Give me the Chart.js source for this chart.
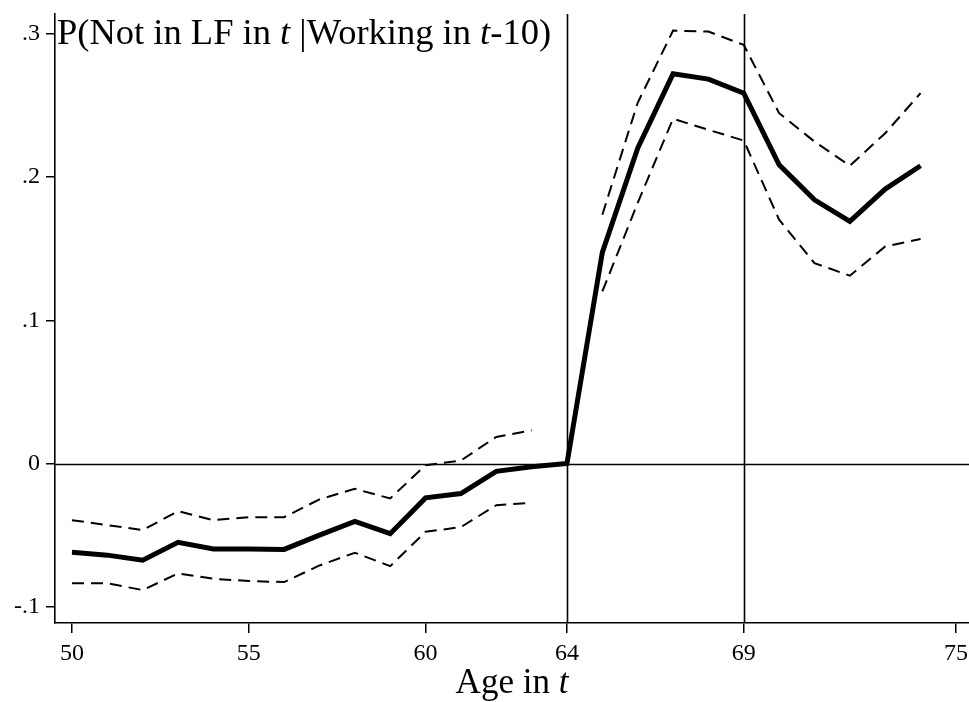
<!DOCTYPE html>
<html>
<head>
<meta charset="utf-8">
<script src="https://cdn.jsdelivr.net/npm/chart.js@4.4.1/dist/chart.umd.min.js"></script>
<style>
    html, body { margin: 0; padding: 0; background: #fff; }
    #wrap { width: 969px; height: 702px; }
</style>
</head>
<body>
<div id="wrap"><canvas id="myChart"></canvas></div>
<script>
// ages 50..74, 64 is the reference age (no CI there)
const ages = [50, 51, 52, 53, 54, 55, 56, 57, 58, 59, 60, 61, 62, 63, 64, 65, 66, 67, 68, 69, 70, 71, 72, 73, 74];
const estimate = [-0.062, -0.064, -0.0675, -0.055, -0.0597, -0.0597, -0.060, -0.050, -0.0405, -0.049, -0.024, -0.021, -0.0055, -0.0022, 0,
    0.1475, 0.2203, 0.2722, 0.2685, 0.2587, 0.2087, 0.1842, 0.1691, 0.1917, 0.208];
const ciHigh = [-0.0396, -0.043, -0.0465, -0.0333, -0.0396, -0.0375, -0.0375, -0.025, -0.0177, -0.0244, -0.0012, 0.0021, 0.0186, 0.0232, null,
    0.1738, 0.252, 0.3024, 0.3017, 0.2924, 0.2447, 0.2249, 0.208, 0.2307, 0.2587];
const ciLow = [-0.0837, -0.0837, -0.0884, -0.0768, -0.0805, -0.0821, -0.0828, -0.0712, -0.0623, -0.0717, -0.0477, -0.0444, -0.0291, -0.0274, null,
    0.1202, 0.182, 0.2408, 0.2331, 0.2256, 0.1703, 0.14, 0.1312, 0.1516, 0.1568];

const xTicks = [50, 55, 60, 64, 69, 75];
const yTicks = [-0.1, 0, 0.1, 0.2, 0.3];
const yTickLabels = ["-.1", "0", ".1", ".2", ".3"];
const vLines = [64, 69];
const hLine = 0;

const FONT = "'Liberation Serif', 'Times New Roman', serif";

function toPoints(vals) {
    let pts = [];
    for (let i = 0; i < ages.length; i++) {
        pts.push({ x: ages[i], y: vals[i] });
    }
    return pts;
}

// draws the text pieces with italic t
function drawRuns(ctx, runs, x, y, size) {
    for (let i = 0; i < runs.length; i++) {
        ctx.font = (runs[i][1] ? "italic " : "") + size + "px " + FONT;
        ctx.fillText(runs[i][0], x, y);
        x += ctx.measureText(runs[i][0]).width;
    }
}

function runsWidth(ctx, runs, size) {
    let w = 0;
    for (let i = 0; i < runs.length; i++) {
        ctx.font = (runs[i][1] ? "italic " : "") + size + "px " + FONT;
        w += ctx.measureText(runs[i][0]).width;
    }
    return w;
}

const refLines = {
    id: 'refLines',
    beforeDatasetsDraw(chart) {
        const ctx = chart.ctx;
        const area = chart.chartArea;
        const xs = chart.scales.x, ys = chart.scales.y;
        ctx.save();
        ctx.strokeStyle = '#000';
        ctx.lineWidth = 1.6;
        vLines.forEach(function (v) {
            let px = Math.round(xs.getPixelForValue(v)) + 0.5;
            ctx.beginPath();
            ctx.moveTo(px, area.top);
            ctx.lineTo(px, area.bottom);
            ctx.stroke();
        });
        let py = Math.round(ys.getPixelForValue(hLine)) + 0.5;
        ctx.beginPath();
        ctx.moveTo(area.left, py);
        ctx.lineTo(area.right, py);
        ctx.stroke();
        ctx.restore();
    }
};

const labels = {
    id: 'labels',
    afterDraw(chart) {
        const ctx = chart.ctx;
        const area = chart.chartArea;
        ctx.save();
        ctx.fillStyle = '#000';
        ctx.textBaseline = 'alphabetic';
        ctx.textAlign = 'left';
        const title = [["P(Not in LF in ", false], ["t", true], [" |Working in ", false], ["t", true], ["-10)", false]];
        drawRuns(ctx, title, area.left + 2, 44, 36.5);

        const xTitle = [["Age in ", false], ["t", true]];
        let w = runsWidth(ctx, xTitle, 35);
        drawRuns(ctx, xTitle, (area.left + area.right) / 2 - w / 2, 693, 35);
        ctx.restore();
    }
};

const ctx = document.getElementById('myChart').getContext('2d');
const myChart = new Chart(ctx, {
    type: 'line',
    data: {
        datasets: [
            {
                label: 'upper',
                data: toPoints(ciHigh),
                borderColor: '#000',
                borderWidth: 2,
                borderDash: [12, 7],
                pointRadius: 0,
                spanGaps: false,
                tension: 0
            },
            {
                label: 'lower',
                data: toPoints(ciLow),
                borderColor: '#000',
                borderWidth: 2,
                borderDash: [12, 7],
                pointRadius: 0,
                spanGaps: false,
                tension: 0
            },
            {
                label: 'estimate',
                data: toPoints(estimate),
                borderColor: '#000',
                borderWidth: 5,
                borderJoinStyle: 'miter',
                pointRadius: 0,
                tension: 0
            }
        ]
    },
    options: {
        responsive: true,
        maintainAspectRatio: false,
        animation: false,
        layout: { padding: { top: 14, right: 0, left: 0, bottom: 0 } },
        plugins: {
            legend: { display: false },
            tooltip: { enabled: false }
        },
        scales: {
            x: {
                type: 'linear',
                min: 49.52,
                max: 75.37,
                afterBuildTicks: function (scale) {
                    scale.ticks = xTicks.map(function (v) { return { value: v }; });
                },
                afterFit: function (scale) {
                    scale.height = 79;
                    // let the axis run to the right edge
                    scale.paddingRight = 0;
                    scale.paddingLeft = 0;
                },
                grid: { drawOnChartArea: false, color: '#000', tickLength: 10, lineWidth: 1.5 },
                border: { display: true, color: '#000', width: 1.6 },
                ticks: {
                    color: '#000',
                    padding: 6,
                    maxRotation: 0,
                    font: { family: FONT, size: 24 },
                    callback: function (v) { return String(v); }
                }
            },
            y: {
                type: 'linear',
                min: -0.1114,
                max: 0.314,
                afterBuildTicks: function (scale) {
                    scale.ticks = yTicks.map(function (v) { return { value: v }; });
                },
                afterFit: function (scale) {
                    scale.width = 55;
                    scale.paddingTop = 0;
                    scale.paddingBottom = 0;
                },
                grid: { drawOnChartArea: false, color: '#000', tickLength: 9, lineWidth: 1.5 },
                border: { display: true, color: '#000', width: 1.6 },
                ticks: {
                    color: '#000',
                    padding: 6,
                    font: { family: FONT, size: 24 },
                    callback: function (v) {
                        for (let i = 0; i < yTicks.length; i++) {
                            if (Math.abs(yTicks[i] - v) < 1e-9) return yTickLabels[i];
                        }
                        return '';
                    }
                }
            }
        }
    },
    plugins: [refLines, labels]
});
</script>
</body>
</html>
